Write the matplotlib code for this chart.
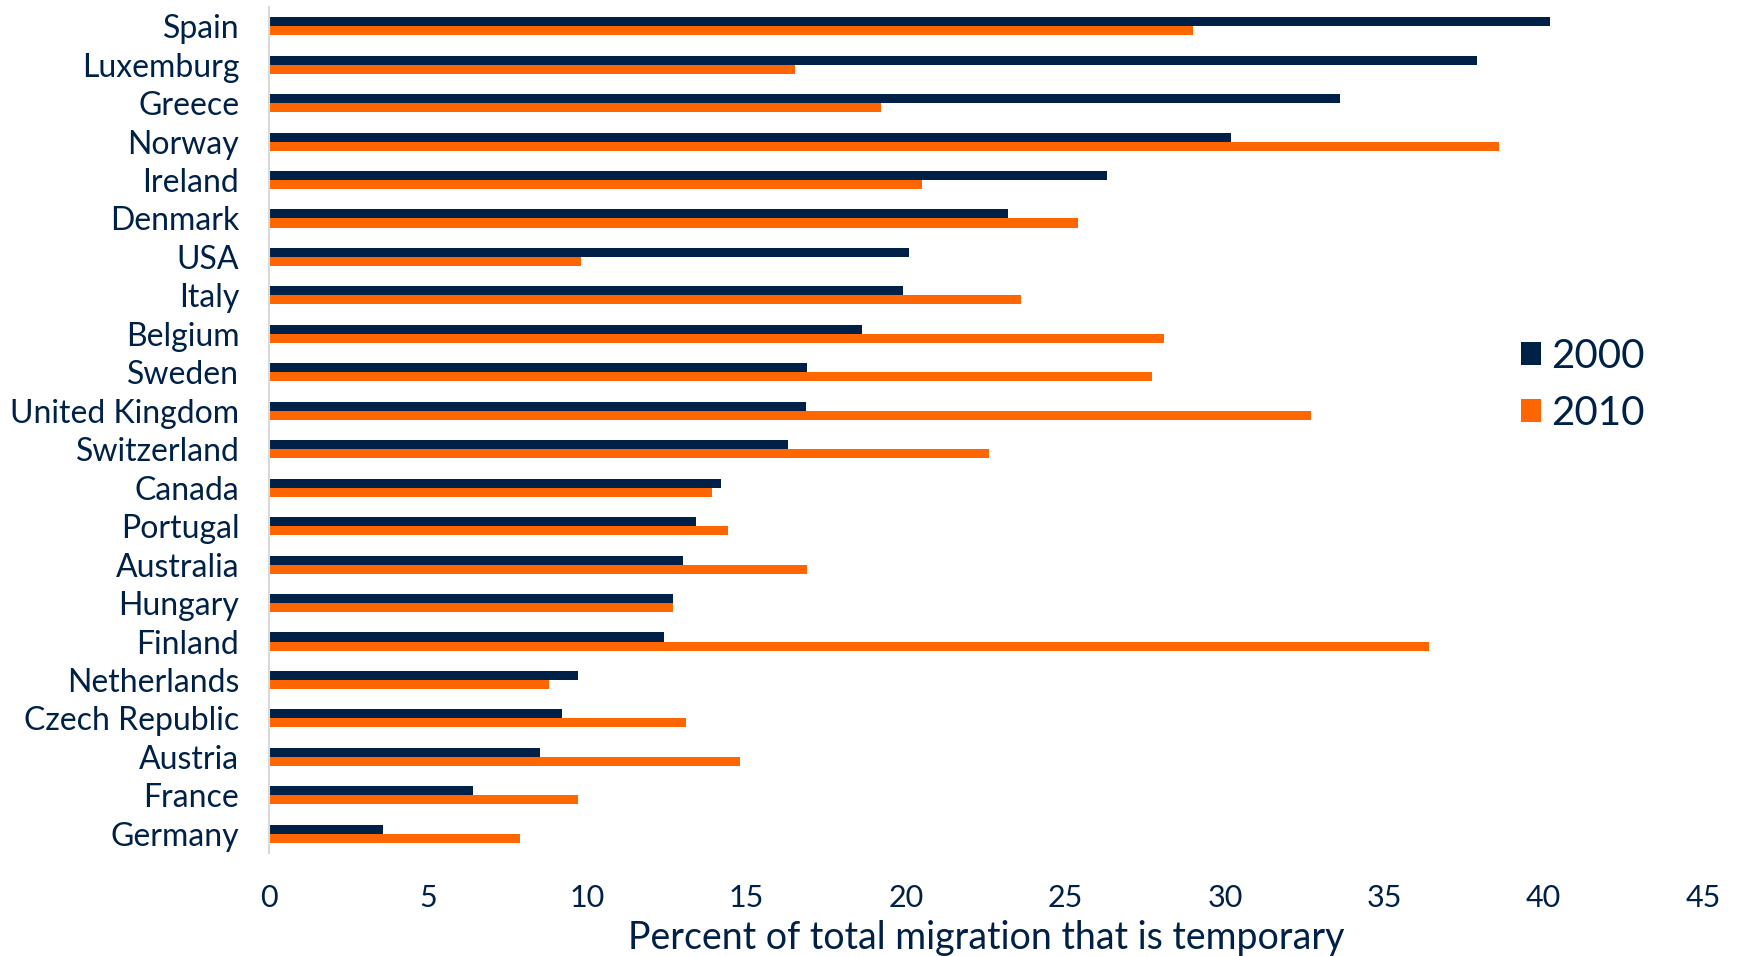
import matplotlib
matplotlib.use("Agg")
import matplotlib.pyplot as plt
import numpy as np

# Share of total migration that is temporary, by country
countries = ["Spain", "Luxemburg", "Greece", "Norway", "Ireland", "Denmark", "USA",
             "Italy", "Belgium", "Sweden", "United Kingdom", "Switzerland", "Canada",
             "Portugal", "Australia", "Hungary", "Finland", "Netherlands",
             "Czech Republic", "Austria", "France", "Germany"]
share_2000 = [40.2, 37.9, 33.6, 30.2, 26.3, 23.2, 20.1, 19.9, 18.6, 16.9, 16.85, 16.3,
              14.2, 13.4, 13.0, 12.7, 12.4, 9.7, 9.2, 8.5, 6.4, 3.6]
share_2010 = [29.0, 16.5, 19.2, 38.6, 20.5, 25.4, 9.8, 23.6, 28.1, 27.7, 32.7, 22.6,
              13.9, 14.4, 16.9, 12.7, 36.4, 8.8, 13.1, 14.8, 9.7, 7.9]
years = ["2000", "2010"]
xticks = [0, 5, 10, 15, 20, 25, 30, 35, 40, 45]

NAVY = "#002147"
ORANGE = "#ff6600"

plt.rcParams["font.family"] = ["Lato", "DejaVu Sans"]

fig = plt.figure(figsize=(17.37, 9.56), dpi=100)
ax = fig.add_axes([0.1546, 0.1077, 0.8259, 0.885])

y = np.arange(len(countries))
h = 0.235
b1 = ax.barh(y - h / 2, share_2000, height=h, color=NAVY, label=years[0])
b2 = ax.barh(y + h / 2, share_2010, height=h, color=ORANGE, label=years[1])

ax.set_ylim(len(countries) - 0.5, -0.5)
ax.set_xlim(0, 45)
ax.set_xticks(xticks)
ax.set_yticks(y)
ax.set_yticklabels(countries)

for s in ["top", "right", "bottom"]:
    ax.spines[s].set_visible(False)
ax.spines["left"].set_color("#d9d9d9")
ax.spines["left"].set_linewidth(1.5)

ax.tick_params(axis="both", length=0, colors=NAVY, labelsize=22)
ax.tick_params(axis="y", pad=21, labelsize=23)
ax.tick_params(axis="x", pad=22)

ax.set_xlabel("Percent of total migration that is temporary", fontsize=27,
              color=NAVY, labelpad=6)

leg = fig.legend(handles=[b1, b2], loc="center left", bbox_to_anchor=(0.8545, 0.5975),
                 frameon=False, fontsize=29, handlelength=0.5, handleheight=0.5,
                 handletextpad=0.25, labelspacing=0.5)
for t in leg.get_texts():
    t.set_color(NAVY)

fig.savefig("out.png", dpi=100)
